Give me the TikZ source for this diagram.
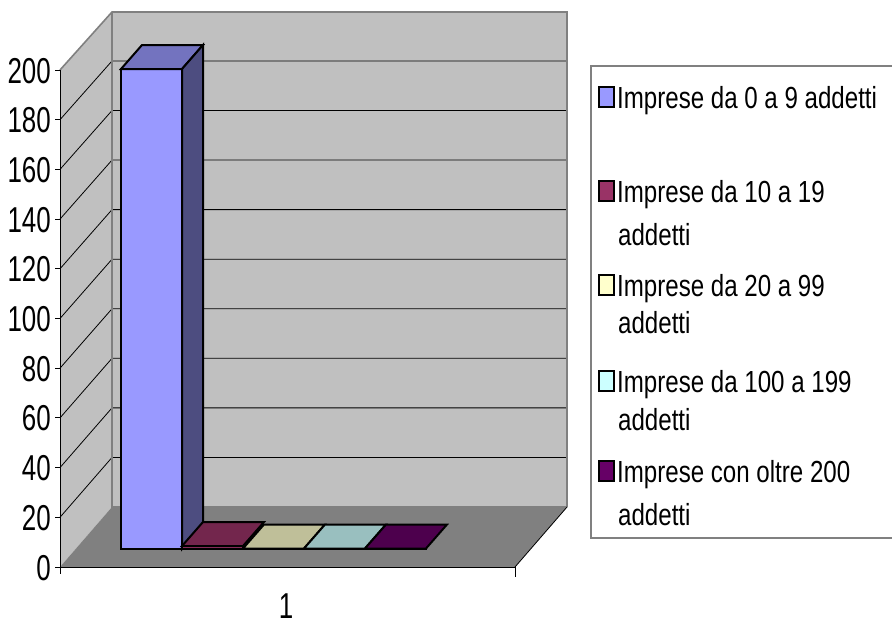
\documentclass[tikz,border=0pt]{standalone}
\usepackage{fontspec}
\setmainfont{Liberation Sans}
\newfontfamily\legfont[FakeStretch=0.79]{Liberation Sans}
\newfontfamily\axfont[FakeStretch=0.72]{Liberation Sans}
\definecolor{wallc}{HTML}{C0C0C0}
\definecolor{floorc}{HTML}{808080}
\definecolor{edgec}{HTML}{808080}
\definecolor{sA}{HTML}{9999FF}
\definecolor{sAt}{HTML}{7373BF}
\definecolor{sAs}{HTML}{4D4D80}
\definecolor{sB}{HTML}{993366}
\definecolor{sBt}{HTML}{73264D}
\definecolor{sC}{HTML}{FFFFCC}
\definecolor{sCt}{HTML}{BFBF99}
\definecolor{sD}{HTML}{CCFFFF}
\definecolor{sDt}{HTML}{99BFBF}
\definecolor{sE}{HTML}{660066}
\definecolor{sEt}{HTML}{4D004D}
\tikzset{
  gridln/.style={black, line width=0.8},
  wedge/.style={edgec, line width=1.6},
  barln/.style={black, line width=2, line join=miter},
  axln/.style={black, line width=1},
  ylab/.style={anchor=base east, inner sep=0, font=\axfont\fontsize{36}{36}\selectfont},
  legtxt/.style={anchor=base west, inner sep=0, font=\legfont\fontsize{30.5}{30.5}\selectfont},
  legmark/.style={black, line width=1.5},
}
\begin{document}
\begin{tikzpicture}[x=1pt,y=-1pt]
\useasboundingbox (0,0) rectangle (892,624);
\fill[white] (0,0) rectangle (892,624);
% walls and floor
\fill[wallc] (112,12) rectangle (567,507);
\fill[wallc] (60,567) -- (60,70) -- (112,12) -- (112,507) -- cycle;
\fill[floorc] (60,567) -- (515,567) -- (567,507) -- (112,507) -- cycle;
% gridlines
\foreach \v in {20,40,...,180} {
  \draw[gridln] (60,{567-\v*2.485}) -- (112,{507-\v*2.478}) -- (567,{507-\v*2.478});
}
% wall edges
\draw[wedge] (60,70) -- (112,12) -- (567,12) -- (567,507);
\draw[wedge] (112,12) -- (112,507) -- (567,507);
\draw[black, line width=0.8] (515,567) -- (567,507);
% axes
\draw[axln] (60,70) -- (60,574);
\foreach \v in {0,20,...,200} {
  \draw[axln] (55,{567-\v*2.485}) -- (60,{567-\v*2.485});
  \node[ylab] (yl\v) at (51,{567-\v*2.485+13}) {\v};
}
\draw[axln] (60,567) -- (515,567) -- (515,577);
\node[anchor=base, inner sep=0, font=\axfont\fontsize{36}{36}\selectfont] (xl) at (286,618) {1};
% bar 1
\filldraw[barln, fill=sA] (121,549) rectangle (182,69);
\filldraw[barln, fill=sAt] (121,69) -- (182,69) -- (203,45) -- (142,45) -- cycle;
\filldraw[barln, fill=sAs] (182,549) -- (182,69) -- (203,45) -- (203,525) -- cycle;
% flat bars
\foreach \xa/\yt/\cf/\ct in {182/546/sB/sBt, 243/548.5/sC/sCt, 304/548.5/sD/sDt, 365/548.5/sE/sEt} {
  \filldraw[barln, fill=\cf] (\xa,549) rectangle (\xa+61,\yt);
  \filldraw[barln, fill=\ct] (\xa,\yt) -- (\xa+61,\yt) -- (\xa+82,\yt-24) -- (\xa+21,\yt-24) -- cycle;
}
% legend
\draw[edgec, line width=2] (591,66) rectangle (896,538);
\foreach \n/\b/\c in {1/108/sA, 2/202/sB, 3/296/sC, 4/392/sD, 5/482/sE} {
  \filldraw[legmark, fill=\c] (599,\b-21) rectangle (614,\b-1);
}
\node[legtxt] (l1) at (617,108) {Imprese da 0 a 9 addetti};
\node[legtxt] (l2) at (617,202) {Imprese da 10 a 19};
\node[legtxt] (l2b) at (618,245) {addetti};
\node[legtxt] (l3) at (617,296) {Imprese da 20 a 99};
\node[legtxt] (l3b) at (618,333) {addetti};
\node[legtxt] (l4) at (617,392) {Imprese da 100 a 199};
\node[legtxt] (l4b) at (618,430) {addetti};
\node[legtxt] (l5) at (617,482) {Imprese con oltre 200};
\node[legtxt] (l5b) at (618,525) {addetti};
\end{tikzpicture}
\end{document}
